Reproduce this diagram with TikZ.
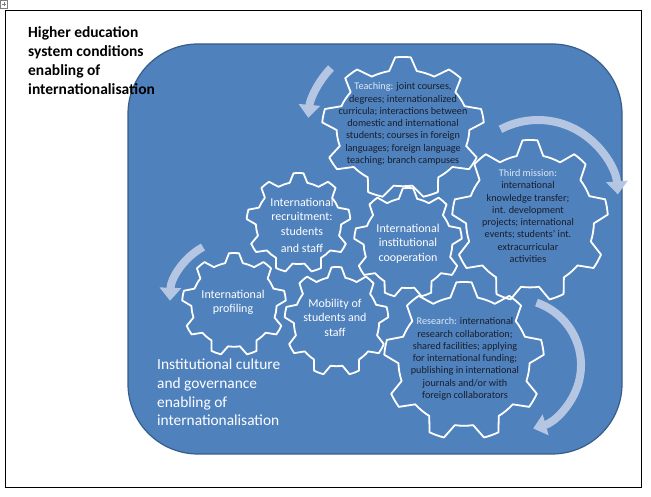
\documentclass[tikz,border=0pt]{standalone}
\usepackage{fontspec}
\setmainfont{Carlito}
\usetikzlibrary{arrows.meta}
\usepackage{xcolor}

\definecolor{boxblue}{RGB}{79,129,189}
\definecolor{boxedge}{RGB}{56,93,138}
\definecolor{turnc}{RGB}{180,198,226}
\definecolor{darktxt}{RGB}{25,30,45}
\definecolor{keytxt}{RGB}{222,232,246}

\begin{document}
\begin{tikzpicture}[x=1pt, y=1pt,
    gearline/.style={draw=white, line width=1.8pt, line join=round},
    gear/.pic={
      \path[gearline] (62:0.82) \foreach \k in {0,...,8} {
          arc[start angle=62+40*\k, end angle=78+40*\k, radius=0.82]
          -- ({84.5+40*\k}:1) arc[start angle=84.5+40*\k, end angle=95.5+40*\k, radius=1]
          -- ({102+40*\k}:0.82)} -- cycle;
    },
    turn/.style={draw=turnc, line width=8pt, -{Triangle[width=21pt,length=13pt]}},
    smalltxt/.style={font=\fontsize{10.2}{12.3}\selectfont, text=darktxt, align=center, inner sep=0},
    geartxt/.style={font=\fontsize{12}{14.5}\selectfont, text=white, align=center, inner sep=0},
    headtxt/.style={align=left, anchor=north west, inner sep=0}
]
\useasboundingbox (0,0) rectangle (651,497);

% Frame and background
\draw[gray, line width=0.4pt] (0.5,489) rectangle (7,496.5);
\draw[gray, line width=0.4pt] (2,492.7) -- (5.5,492.7) (3.75,491) -- (3.75,494.5);
\draw[black, line width=0.8pt] (5,10) rectangle (641,487);
\draw[boxedge, fill=boxblue, line width=1.2pt, rounded corners=70pt] (128,43) rectangle (622,453);

% Gears
\pic[xscale=81, yscale=71] at (403,369) {gear};
\pic[xscale=78, yscale=81] at (530,276) {gear};
\pic[xscale=52, yscale=50] at (298.5,274) {gear};
\pic[xscale=54, yscale=55] at (408,254) {gear};
\pic[xscale=52, yscale=54.5] at (336.5,175.5) {gear};
\pic[xscale=52, yscale=51.5] at (234,192.5) {gear};
\pic[xscale=80, yscale=79] at (464,136) {gear};

% Turning arrows
\draw[turn] ([shift={(136:82)}]390,372) arc[start angle=136, end angle=175, radius=82];
\draw[turn] ([shift={(118:80)}]538,297) arc[start angle=118, end angle=4, radius=80];
\draw[turn] ([shift={(119:64)}]234,194) arc[start angle=119, end angle=178, radius=64];
\draw[turn] ([shift={(71:66)}]515,132) arc[start angle=71, end angle=-74, radius=66];

% Nodes
\node[headtxt, font=\bfseries\fontsize{15.5}{19}\selectfont] (sysTitle) at (28,471)
  {Higher education\\system conditions\\enabling of\\internationalisation};
\node[headtxt, text=white, font=\fontsize{15.4}{18.7}\selectfont] (cultTitle) at (157,138)
  {Institutional culture\\and governance\\enabling of\\internationalisation};

\node[smalltxt] (teach) at (403,373)
  {\textcolor{keytxt}{Teaching:} joint courses,\\degrees; internationalized\\curricula; interactions between\\domestic and international\\students; courses in foreign\\languages; foreign language\\teaching; branch campuses};
\node[smalltxt] (third) at (528,281)
  {\textcolor{keytxt}{Third mission:}\\international\\knowledge transfer;\\int. development\\projects; international\\events; students’ int.\\extracurricular\\activities};
\node[smalltxt] (research) at (465,138)
  {\textcolor{keytxt}{Research:} international\\research collaboration;\\shared facilities; applying\\for international funding;\\publishing in international\\journals and/or with\\foreign collaborators};

\node[geartxt] (recruit) at (302,272) {International\\recruitment:\\students\\[2.5pt]and staff};
\node[geartxt] (coop) at (408,253.5) {International\\institutional\\cooperation};
\node[geartxt] (profil) at (233,194.5) {International\\profiling};
\node[geartxt] (mobil) at (335,179.5) {Mobility of\\students and\\staff};

\end{tikzpicture}
\end{document}
